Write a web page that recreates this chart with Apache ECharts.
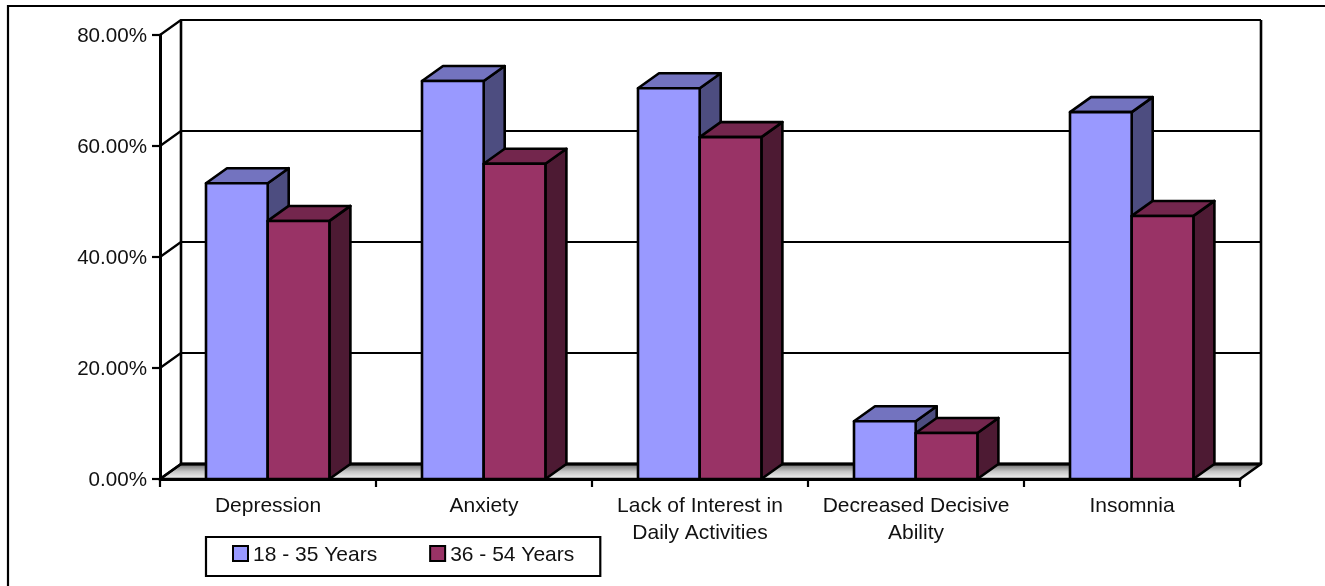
<!DOCTYPE html>
<html>
<head>
<meta charset="utf-8">
<style>html,body{margin:0;padding:0;background:#fff;overflow:hidden}#chart{width:1325px;height:586px}</style>
<script src="https://cdn.jsdelivr.net/npm/echarts@6/dist/echarts.min.js"></script>
</head>
<body>
<div id="chart"></div>
<script>
const categories = ['Depression', 'Anxiety', 'Lack of Interest in\nDaily Activities', 'Decreased Decisive\nAbility', 'Insomnia'];
const youngerValues = [53.3, 71.7, 70.4, 10.4, 66.1];
const olderValues = [46.5, 56.8, 61.6, 8.3, 47.4];
const valueTicks = [0, 20, 40, 60, 80];

const FONT = '"Liberation Sans", Arial, sans-serif';
const DEPTH_X = 21, DEPTH_Y = -15;
const BAR_RATIO = 61.7 / 216;
const EDGE = 2.6;

// One column as three faces: side, top, then front.
function columnRenderer(seriesIndex, front, top, side) {
  return function (params, api) {
    const center = api.coord([api.value(0), api.value(1)]);
    const base = api.coord([api.value(0), 0]);
    const w = api.size([1, 0])[0] * BAR_RATIO;
    const x0 = center[0] - 0.3 + (seriesIndex - 1) * w;
    const x1 = x0 + w;
    const yT = center[1], yB = base[1];
    const line = { stroke: '#000', lineWidth: EDGE, lineJoin: 'round' };
    const poly = (points, fill) => ({
      type: 'polygon', shape: { points }, style: Object.assign({ fill }, line)
    });
    return {
      type: 'group',
      children: [
        poly([[x1, yT], [x1 + DEPTH_X, yT + DEPTH_Y], [x1 + DEPTH_X, yB + DEPTH_Y], [x1, yB]], side),
        poly([[x0, yT], [x0 + DEPTH_X, yT + DEPTH_Y], [x1 + DEPTH_X, yT + DEPTH_Y], [x1, yT]], top),
        poly([[x0, yT], [x1, yT], [x1, yB], [x0, yB]], front)
      ]
    };
  };
}

// Back wall rules and their returns onto the left wall.
function wallRenderer(params, api) {
  const y = api.coord([0, api.value(0)])[1];
  const cs = params.coordSys;
  const xL = cs.x, xR = cs.x + cs.width;
  return {
    type: 'polyline',
    shape: { points: [[xL, y], [xL + DEPTH_X, y + DEPTH_Y], [xR + DEPTH_X, y + DEPTH_Y]] },
    style: { stroke: '#000', lineWidth: EDGE - 0.4, lineJoin: 'round', fill: null }
  };
}

// Wall verticals and the shaded floor.
function shellRenderer(params, api) {
  const cs = params.coordSys;
  const xL = cs.x, xR = cs.x + cs.width;
  const yB = cs.y + cs.height, yT = cs.y;
  return {
    type: 'group',
    children: [
      { type: 'polygon',
        shape: { points: [[xL, yB], [xL + DEPTH_X, yB + DEPTH_Y], [xR + DEPTH_X, yB + DEPTH_Y], [xR, yB]] },
        style: {
          stroke: '#000', lineWidth: EDGE, lineJoin: 'round',
          fill: new echarts.graphic.LinearGradient(0, 0, 0, 1, [
            { offset: 0, color: '#5c5c5c' }, { offset: 0.5, color: '#c6c6c6' }, { offset: 1, color: '#fbfbfb' }
          ])
        } },
      { type: 'line', shape: { x1: xL + DEPTH_X, y1: yT + DEPTH_Y, x2: xL + DEPTH_X, y2: yB + DEPTH_Y },
        style: { stroke: '#000', lineWidth: EDGE } },
      { type: 'line', shape: { x1: xR + DEPTH_X, y1: yT + DEPTH_Y, x2: xR + DEPTH_X, y2: yB + DEPTH_Y },
        style: { stroke: '#000', lineWidth: EDGE } },
      { type: 'line', shape: { x1: xL + DEPTH_X, y1: yB + DEPTH_Y, x2: xR + DEPTH_X, y2: yB + DEPTH_Y },
        style: { stroke: '#000', lineWidth: 3.2 } }
    ]
  };
}

const chart = echarts.init(document.getElementById('chart'), null, { renderer: 'canvas' });
chart.setOption({
  animation: false,
  backgroundColor: '#fff',
  textStyle: { fontFamily: FONT },
  graphic: [{
    type: 'rect', silent: true, z: 0,
    shape: { x: 8, y: 6, width: 1500, height: 800 },
    style: { fill: null, stroke: '#000', lineWidth: 2.2 }
  }],
  grid: { left: 160, right: 85, top: 35, bottom: 107 },
  legend: {
    left: 206, top: 537,
    data: ['18 - 35 Years', '36 - 54 Years'],
    orient: 'horizontal',
    itemWidth: 15, itemHeight: 15, itemGap: 52,
    padding: [8, 26, 10, 26],
    backgroundColor: '#fff', borderColor: '#000', borderWidth: 2.2, borderRadius: 0,
    icon: 'rect',
    itemStyle: { borderColor: '#000', borderWidth: 2 },
    formatter: '{t|{name}}',
    textStyle: { color: '#111', fontSize: 21, fontFamily: FONT,
      rich: { t: { color: '#111', fontSize: 21, fontFamily: FONT, padding: [4, 0, 0, 0] } } }
  },
  xAxis: {
    type: 'category', data: categories,
    axisLine: { show: true, onZero: false, lineStyle: { color: '#000', width: 3 } },
    axisTick: { show: true, length: 8, alignWithLabel: false, lineStyle: { color: '#000', width: 2.2 } },
    axisLabel: { color: '#111', fontSize: 21, fontFamily: FONT, margin: 14, lineHeight: 27, interval: 0 },
    z: 10
  },
  yAxis: {
    type: 'value', min: 0, max: 80, interval: 20,
    axisLine: { show: true, lineStyle: { color: '#000', width: 3 } },
    axisTick: { show: true, length: 8, lineStyle: { color: '#000', width: 2.2 } },
    axisLabel: {
      color: '#111', fontSize: 20.6, fontFamily: FONT, margin: 13,
      formatter: v => '{t|' + v.toFixed(2) + '%}',
      rich: { t: { color: '#111', fontSize: 20.6, fontFamily: FONT, padding: [3, 0, 0, 0] } }
    },
    splitLine: { show: false },
    z: 10
  },
  series: [
    { type: 'custom', name: 'shell', renderItem: shellRenderer, data: [0], encode: { x: -1, y: -1 }, silent: true, z: 1 },
    { type: 'custom', name: 'wall', renderItem: wallRenderer, data: valueTicks.map(v => [v]), encode: { y: 0, x: -1 }, silent: true, z: 1 },
    { type: 'custom', name: '18 - 35 Years', z: 3,
      renderItem: columnRenderer(0, '#9999FF', '#7373BF', '#4D4D80'),
      itemStyle: { color: '#9999FF' },
      data: youngerValues.map((v, i) => [i, v]), encode: { x: 0, y: 1 } },
    { type: 'custom', name: '36 - 54 Years', z: 4,
      renderItem: columnRenderer(1, '#993366', '#73264D', '#4D1A33'),
      itemStyle: { color: '#993366' },
      data: olderValues.map((v, i) => [i, v]), encode: { x: 0, y: 1 } }
  ]
});
</script>
</body>
</html>
